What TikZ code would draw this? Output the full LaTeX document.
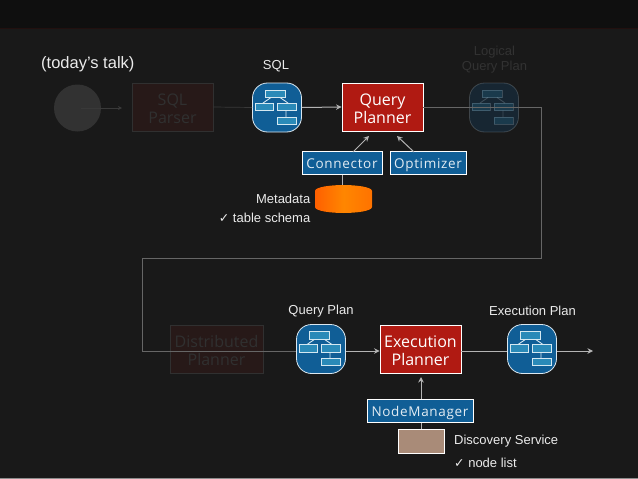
\documentclass[tikz,border=0pt]{standalone}
\usepackage{fontspec}
\setmainfont{Liberation Sans}
\newfontfamily\boxfont{Open Sans}
\newfontfamily\boxlsfont[LetterSpace=5]{Open Sans}
\newfontfamily\symfont{DejaVu Sans}
\usetikzlibrary{arrows.meta}
\definecolor{bgc}{HTML}{191919}
\definecolor{topc}{HTML}{0F0F0F}
\definecolor{linec}{HTML}{B4B4B4}
\definecolor{dimline}{HTML}{666666}
\definecolor{bluec}{HTML}{105E96}
\definecolor{redc}{HTML}{B01A12}
\definecolor{tanc}{HTML}{A98B78}
\definecolor{iconin}{HTML}{2A8AB8}
\newcommand{\tstrut}{\rule{0pt}{15.5pt}}
\tikzset{
  x=1pt,y=-1pt,
  lbl/.style={text=white!92!black,font=\fontsize{13}{15}\selectfont,inner sep=0pt},
  dimlbl/.style={text=white!11!bgc,font=\fontsize{13}{15}\selectfont,align=center,inner sep=0pt},
  redbox/.style={draw=white,line width=0.9pt,fill=redc,text=white,minimum width=81pt,minimum height=48pt,inner sep=0pt,align=center,font=\boxfont\fontsize{16}{18}\selectfont},
  dimbox/.style={draw=white!10!bgc,line width=0.6pt,fill=redc!9!bgc,text=white!10!bgc,minimum height=48pt,inner sep=0pt,align=center,font=\boxfont\fontsize{16}{18}\selectfont},
  bluebox/.style={draw=white,line width=0.8pt,fill=bluec,text=white!88!bluec,minimum height=22.5pt,inner sep=0pt,text height=12pt,text depth=2pt,font=\boxlsfont\fontsize{13.5}{16}\selectfont},
  arr/.style={draw=linec,line width=1pt,-{Stealth[length=5.5pt,width=5.5pt]}},
  plain/.style={draw=linec,line width=1pt},
  dimthin/.style={draw=white!14!bgc,line width=0.7pt},
  iconbg/.style={draw=white!85!bluec,line width=0.8pt,fill=bluec,rounded corners=15pt,minimum size=49pt,inner sep=0pt},
}
\newcommand{\planicon}[3]{%
  \node[iconbg,opacity=#3] (#2) at (#1) {};
  \begin{scope}[shift={(#1)},opacity=#3,draw=white!80!iconin,line width=0.9pt]
    \draw (-6,-10) -- (-14,-4.5) (3,-10) -- (11,-4.5) (9,3) -- (9,9.5);
    \draw[fill=iconin] (-12,-17.5) rectangle (8,-10);
    \draw[fill=iconin] (-22,-4.5) rectangle (-4,3);
    \draw[fill=iconin] (0,-4.5) rectangle (19,3);
    \draw[fill=iconin] (0,9.5) rectangle (19,16.5);
  \end{scope}}
\begin{document}
\begin{tikzpicture}
\useasboundingbox (0,0) rectangle (638,479);
\fill[bgc] (0,0) rectangle (638,479);
\fill[topc] (0,0) rectangle (638,28);
\fill[redc!12!topc] (0,28) rectangle (638,29);
\fill[white!55!black] (0,477.6) rectangle (638,479);

% dim upper row
\node[circle,fill=white!11!bgc,minimum size=47pt,inner sep=0pt] (src) at (77.5,108) {};
\node[dimbox,minimum width=81pt] (parser) at (172.5,107) {\tstrut SQL\\Parser};
\coordinate (srcout) at (81,108);
\coordinate (srcend) at (122,108);
\draw[dimthin,-{Stealth[length=4pt,width=4pt]}] (srcout) -- (srcend);

% upper row
\planicon{277,107.5}{sql}{1}
\draw[dimthin] (parser.east) -- (sql.west);
\node[redbox] (qp) at (382.5,107) {\tstrut Query\\Planner};
\planicon{494,107.5}{lqp}{0.2}
\draw[arr] (sql.east) -- (qp.west);
\node[dimlbl] (lqplbl) at (494.5,59.5) {Logical\\Query Plan};

\node[bluebox,minimum width=80pt] (conn) at (342,163) {Connector};
\node[bluebox,minimum width=76pt] (opt) at (428,163) {Optimizer};
\coordinate (qpa) at (369,136);
\coordinate (qpb) at (397,136);
\coordinate (conna) at (353,152);
\coordinate (optb) at (414,152);
\draw[arr] (conna) -- (qpa);
\draw[arr] (optb) -- (qpb);

% metadata cylinder
\node[minimum width=57pt,minimum height=28pt,inner sep=0pt] (meta) at (343.5,199) {};
\fill[left color=orange!75!red,right color=orange!90!red,middle color=orange!95!yellow]
  (315,191) .. controls (315,187) and (330,185) .. (343.5,185)
  .. controls (357,185) and (372,187) .. (372,191)
  -- (372,207) .. controls (372,211) and (357,213) .. (343.5,213)
  .. controls (330,213) and (315,211) .. (315,207) -- cycle;
\draw[plain] (conn.south) -- (conn.south |- meta.north);

% dim lower box sits under the connector
\node[dimbox,minimum width=93pt] (dist) at (216.5,349) {\tstrut Distributed\\Planner};

% long connection
\coordinate (c1) at (541,107);
\coordinate (c2) at (541,258);
\coordinate (c3) at (142,258);
\coordinate (c4) at (142,351);
\planicon{321,349}{qplan}{1}
\draw[draw=dimline,line width=1pt] (qp.east |- c1) -- (c1) -- (c2) -- (c3) -- (c4) -- (qplan.west |- c4);

% lower row
\node[redbox] (ep) at (420.5,349) {\tstrut Execution\\Planner};
\planicon{532,349}{eplan}{1}
\coordinate (endp) at (593,351);
\draw[arr] (qplan.east |- c4) -- (ep.west |- c4);
\draw[plain] (ep.east |- c4) -- (eplan.west |- c4);
\draw[arr] (eplan.east |- c4) -- (endp);
\node[bluebox,minimum width=106pt,minimum height=23.5pt] (nm) at (420,411) {NodeManager};
\node[rectangle,draw=white,line width=0.8pt,fill=tanc,minimum width=46pt,minimum height=24pt,inner sep=0pt] (disc) at (421,441) {};
\coordinate (eptip) at (421,377);
\draw[arr] (eptip |- nm.north) -- (eptip);
\draw[plain] (disc.north) -- (disc.north |- nm.south);

% labels
\node[lbl,anchor=west,font=\fontsize{16.5}{18}\selectfont] (today) at (41,64) {(today’s talk)};
\node[lbl] (sqllbl) at (276,66.5) {SQL};
\node[lbl,anchor=east] (metal) at (310.5,199) {Metadata};
\node[lbl,anchor=east] (schema) at (310.5,218) {{\symfont\fontsize{12.5}{14}\selectfont ✓} table schema};
\node[lbl] (qplbl) at (321,311) {Query Plan};
\node[lbl] (eplbl) at (532.5,311) {Execution Plan};
\node[lbl,anchor=west] (dslbl) at (454,441) {Discovery Service};
\node[lbl,anchor=west] (nllbl) at (454,463) {{\symfont\fontsize{12.5}{14}\selectfont ✓} node list};
\end{tikzpicture}
\end{document}
